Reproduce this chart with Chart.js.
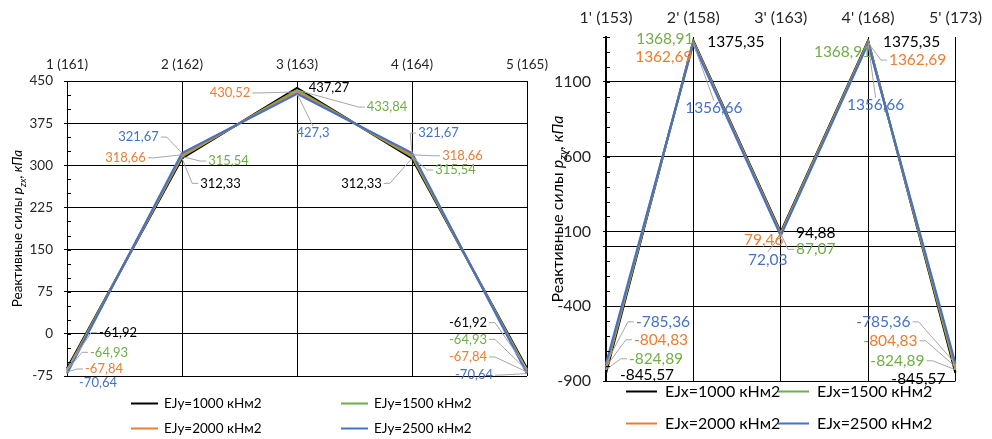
<!DOCTYPE html>
<html>
<head>
<meta charset="utf-8">
<script src="https://cdn.jsdelivr.net/npm/chart.js@4.4.1/dist/chart.umd.min.js"></script>
<style>
  html, body { margin: 0; padding: 0; background: #fff; }
  #wrap { position: relative; width: 992px; height: 439px; overflow: hidden; }
  #chartY { position: absolute; left: 0; top: 0; }
  #chartX { position: absolute; left: 540px; top: 0; }
</style>
</head>
<body>
<div id="wrap">
  <canvas id="chartY" width="560" height="439"></canvas>
  <canvas id="chartX" width="452" height="439"></canvas>
</div>
<script>
// узлы (номер сваи) и жёсткости
const nodesY = ['1 (161)', '2 (162)', '3 (163)', '4 (164)', '5 (165)'];
const nodesX = ["1' (153)", "2' (158)", "3' (163)", "4' (168)", "5' (173)"];
const seriesY = ['EJy=1000 кНм2', 'EJy=1500 кНм2', 'EJy=2000 кНм2', 'EJy=2500 кНм2'];
const seriesX = ['EJx=1000 кНм2', 'EJx=1500 кНм2', 'EJx=2000 кНм2', 'EJx=2500 кНм2'];

// реактивные силы p_zx, кПа
const pzx1000 = [-61.92, 312.33, 437.27, 312.33, -61.92];
const pzx1500 = [-64.93, 315.54, 433.84, 315.54, -64.93];
const pzx2000 = [-67.84, 318.66, 430.52, 318.66, -67.84];
const pzx2500 = [-70.64, 321.67, 427.3, 321.67, -70.64];

// реактивные силы p_zy, кПа
const pzy1000 = [-845.57, 1375.35, 94.88, 1375.35, -845.57];
const pzy1500 = [-824.89, 1368.91, 87.07, 1368.91, -824.89];
const pzy2000 = [-804.83, 1362.69, 79.46, 1362.69, -804.83];
const pzy2500 = [-785.36, 1356.66, 72.03, 1356.66, -785.36];

// подписи оси значений
const pzxTicks = [-75, 0, 75, 150, 225, 300, 375, 450];
const pzyTicks = [-900, -400, 100, 600, 1100];
const pzyMax = 1400;

const colors = ['#000000', '#70AD47', '#ED7D31', '#4472C4'];
const FONT = 'Lato';

// смещения подписей значений от точек, px [dx, dy]
const labelPosY = [
  [[51, -36], [38.5, 25], [32, 0], [-50.5, 25], [-59, -46]],
  [[42, -18], [46.5, 4.5], [90, 17], [43.5, 13.5], [-59, -31]],
  [[37, -3], [-56.5, 3], [-67, 1], [50.5, 1], [-59, -15]],
  [[31, 9.5], [-43.5, -16], [16, 39], [26.5, -20], [-53, 1.5]]
];
const labelPosX = [
  [[41, 2], [42.5, 1.5], [35, 1], [43.5, 1.5], [-37, 6]],
  [[50, -11], [-28.5, -2.5], [35, 16], [-25.5, 10.5], [-58, -9]],
  [[55, -27], [-29.5, 14.5], [-17, 5], [49.5, 17.5], [-65, -26]],
  [[57, -42], [20.5, 65], [-13, 24], [7.5, 62], [-72, -42]]
];

const fmt = v => String(v).replace('.', ',');

// подписи значений с выносками
const valueLabels = {
  id: 'valueLabels',
  afterDatasetsDraw(chart, args, opts) {
    const ctx = chart.ctx;
    const h = opts.size;
    ctx.save();
    ctx.font = `${h}px ${FONT}`;
    const items = [];
    chart.data.datasets.forEach((ds, i) => {
      chart.getDatasetMeta(i).data.forEach((pt, j) => {
        const [dx, dy] = opts.offsets[i][j];
        const text = fmt(ds.data[j]);
        items.push({ x: pt.x, y: pt.y, lx: pt.x + dx, ly: pt.y + dy, w: ctx.measureText(text).width, text, color: ds.borderColor });
      });
    });
    ctx.strokeStyle = '#A6A6A6';
    ctx.lineWidth = 1;
    items.forEach(it => {
      const l = it.lx - it.w / 2 - 2, r = it.lx + it.w / 2 + 2, t = it.ly - h / 2, b = it.ly + h / 2;
      const gx = Math.max(l - it.x, 0, it.x - r), gy = Math.max(t - it.y, 0, it.y - b);
      if (Math.hypot(gx, gy) < 14) return;
      ctx.beginPath();
      if (it.x < l) { ctx.moveTo(l, it.ly); ctx.lineTo(l - 6, it.ly); }
      else if (it.x > r) { ctx.moveTo(r, it.ly); ctx.lineTo(r + 6, it.ly); }
      else { ctx.moveTo(it.lx, it.y < t ? t : b); }
      ctx.lineTo(it.x, it.y);
      ctx.stroke();
    });
    ctx.textAlign = 'center';
    ctx.textBaseline = 'middle';
    items.forEach(it => { ctx.fillStyle = it.color; ctx.fillText(it.text, it.lx, it.ly); });
    ctx.restore();
  }
};

// мелкие засечки, заголовок оси и легенда
const frame = {
  id: 'frame',
  afterDraw(chart, args, o) {
    const { ctx, chartArea: a, scales } = chart;
    const y = scales.y;
    ctx.save();
    ctx.strokeStyle = '#000';
    ctx.lineWidth = 1;
    for (let v = y.min; v <= y.max + 1e-9; v += o.minorStep) {
      const py = Math.round(y.getPixelForValue(v)) + 0.5;
      ctx.beginPath();
      ctx.moveTo(a.left, py);
      ctx.lineTo(a.left + 4, py);
      ctx.stroke();
    }

    // заголовок оси Y с индексом
    const t = o.title;
    ctx.save();
    ctx.translate(t.x, (a.top + a.bottom) / 2);
    ctx.rotate(-Math.PI / 2);
    ctx.textAlign = 'left';
    ctx.textBaseline = 'alphabetic';
    const parts = t.parts.map(p => {
      const size = p.sub ? t.size * 0.72 : t.size;
      const font = `${p.italic ? 'italic ' : ''}${size}px ${FONT}`;
      ctx.font = font;
      return { ...p, font, w: ctx.measureText(p.text).width };
    });
    let cx = -parts.reduce((s, p) => s + p.w, 0) / 2;
    ctx.fillStyle = '#000';
    parts.forEach(p => {
      ctx.font = p.font;
      ctx.fillText(p.text, cx, t.size * 0.35 + (p.sub ? t.size * 0.3 : 0));
      cx += p.w;
    });
    ctx.restore();

    // легенда в две колонки
    const lg = o.legend;
    ctx.font = `${lg.size}px ${FONT}`;
    ctx.textBaseline = 'middle';
    ctx.textAlign = 'left';
    chart.data.datasets.forEach((ds, i) => {
      const lx = a.left + lg.cols[i % 2];
      const ly = Math.round(a.bottom + lg.rows[Math.floor(i / 2)]) + 0.5;
      ctx.strokeStyle = ds.borderColor;
      ctx.lineWidth = 2;
      ctx.beginPath();
      ctx.moveTo(lx, ly);
      ctx.lineTo(lx + lg.line, ly);
      ctx.stroke();
      ctx.fillStyle = '#000';
      ctx.fillText(ds.label, lx + lg.line + lg.gap, ly);
    });
    ctx.restore();
  }
};

function datasets(labels, series) {
  return series.map((data, i) => ({
    label: labels[i],
    data: data,
    borderColor: colors[i],
    backgroundColor: colors[i],
    borderWidth: 2.2,
    pointRadius: 0,
    tension: 0,
    order: series.length - i
  }));
}

// 1) p_zx при разной жёсткости EJy
new Chart(document.getElementById('chartY'), {
  type: 'line',
  data: { labels: nodesY, datasets: datasets(seriesY, [pzx1000, pzx1500, pzx2000, pzx2500]) },
  plugins: [valueLabels, frame],
  options: {
    responsive: false,
    animation: false,
    layout: { padding: { top: 0, left: 0, right: 33, bottom: 63 } },
    plugins: {
      legend: { display: false },
      tooltip: { enabled: false },
      valueLabels: { offsets: labelPosY, size: 13 },
      frame: {
        minorStep: 25,
        title: { x: 17, size: 13.5, parts: [
          { text: 'Реактивные силы ' }, { text: 'p', italic: true },
          { text: 'zx', italic: true, sub: true }, { text: ', кПа', italic: true }] },
        legend: { size: 13.5, cols: [64, 274], rows: [27, 52], line: 27, gap: 6 }
      }
    },
    scales: {
      x: {
        type: 'category', position: 'top', offset: false,
        grid: { color: '#000', lineWidth: 1, drawTicks: false },
        border: { display: true, color: '#000' },
        ticks: { font: { family: FONT, size: 13.5 }, color: '#262626', padding: 8, maxRotation: 0, autoSkip: false },
        afterFit: s => { s.height = 81; }
      },
      y: {
        min: -75, max: 450,
        afterBuildTicks: s => { s.ticks = pzxTicks.map(v => ({ value: v })); },
        grid: { color: '#000', lineWidth: 1, tickLength: 3, tickColor: '#000' },
        border: { color: '#000', width: 1 },
        ticks: { font: { family: FONT, size: 13.5 }, color: '#262626', padding: 11 },
        afterFit: s => { s.width = 67; }
      }
    }
  }
});

// 2) p_zy при разной жёсткости EJx
new Chart(document.getElementById('chartX'), {
  type: 'line',
  data: { labels: nodesX, datasets: datasets(seriesX, [pzy1000, pzy1500, pzy2000, pzy2500]) },
  plugins: [valueLabels, frame],
  options: {
    responsive: false,
    animation: false,
    layout: { padding: { top: 0, left: 0, right: 28, bottom: 58 } },
    plugins: {
      legend: { display: false },
      tooltip: { enabled: false },
      valueLabels: { offsets: labelPosX, size: 15.5 },
      frame: {
        minorStep: 100,
        title: { x: 17, size: 16, parts: [
          { text: 'Реактивные силы ' }, { text: 'p', italic: true },
          { text: 'zy', italic: true, sub: true }, { text: ', кПа', italic: true }] },
        legend: { size: 16, cols: [20, 172], rows: [10, 42], line: 31, gap: 8 }
      }
    },
    scales: {
      x: {
        type: 'category', position: 'top', offset: false,
        grid: { color: '#000', lineWidth: 1, drawTicks: false },
        border: { display: false },
        ticks: { font: { family: FONT, size: 16 }, color: '#262626', padding: 10, maxRotation: 0, autoSkip: false },
        afterFit: s => { s.height = 37; }
      },
      y: {
        min: pzyTicks[0], max: pzyMax,
        // подписанные деления, ось X (0) и верхняя граница без подписи
        afterBuildTicks: s => {
          s.ticks = [...pzyTicks, 0, pzyMax].sort((p, q) => p - q).map(v => ({ value: v }));
        },
        grid: {
          color: c => (c.tick && c.tick.value === pzyMax ? 'rgba(0,0,0,0)' : '#000'),
          lineWidth: 1, tickLength: 3, tickColor: '#000'
        },
        border: { color: '#000', width: 2 },
        ticks: {
          font: { family: FONT, size: 16 }, color: '#262626', padding: 12,
          callback: v => (pzyTicks.includes(v) ? v : '')
        },
        afterFit: s => { s.width = 66; }
      }
    }
  }
});
</script>
</body>
</html>
